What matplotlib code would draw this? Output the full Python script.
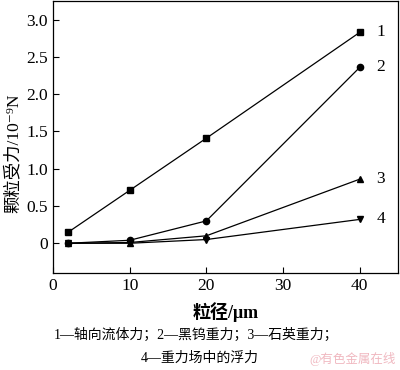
import matplotlib.pyplot as plt
import numpy as np

plt.rcParams['font.family'] = ['Liberation Serif', 'Noto Sans CJK SC', 'DejaVu Serif']

# 数据
x = [2, 10, 20, 40]
axial_force = [0.15, 0.71, 1.41, 2.83]
wolframite_gravity = [0.0, 0.04, 0.30, 2.36]
quartz_gravity = [0.0, 0.01, 0.10, 0.86]
buoyancy = [0.0, 0.0, 0.05, 0.32]
series = [axial_force, wolframite_gravity, quartz_gravity, buoyancy]
markers = ['s', 'o', '^', 'v']
labels = ['1', '2', '3', '4']

yticks = [0, 0.5, 1.0, 1.5, 2.0, 2.5, 3.0]
ytick_labels = ['0', '0.5', '1.0', '1.5', '2.0', '2.5', '3.0']
xticks = [0, 10, 20, 30, 40]

fig = plt.figure(figsize=(4, 3.7), dpi=100)
ax = fig.add_axes([0.1325, 0.262, 0.8625, 0.735])

for ys, m, lab in zip(series, markers, labels):
    ax.plot(x, ys, color='black', linewidth=0.9, marker=m, markersize=4.5)
    ax.annotate(lab, xy=(x[-1], ys[-1]), xytext=(12, 0), textcoords='offset points',
                va='center', ha='left', fontsize=12.5)

ax.set_xlim(0, 45)
ax.set_ylim(-0.4, 3.25)
ax.set_xticks(xticks)
ax.set_yticks(yticks)
ax.set_yticklabels(ytick_labels)
ax.tick_params(direction='in', labelsize=12.5, length=4, width=0.8)
for s in ax.spines.values():
    s.set_linewidth(0.9)

ax.set_ylabel('颗粒受力/10⁻⁹N', fontsize=12.5)
ax.yaxis.set_label_coords(-0.092, 0.44)
ax.set_xlabel('粒径/μm', fontsize=13, fontweight='bold', labelpad=6)

# 图注
fig.text(0.135, 0.095, '1—轴向流体力；2—黑钨重力；3—石英重力；', fontsize=10, va='center', ha='left')
fig.text(0.5, 0.033, '4—重力场中的浮力', fontsize=10, va='center', ha='center')
fig.text(0.99, 0.03, '@有色金属在线', fontsize=9, va='center', ha='right', color='#f0b8c0')

plt.savefig('out.png', dpi=100)
